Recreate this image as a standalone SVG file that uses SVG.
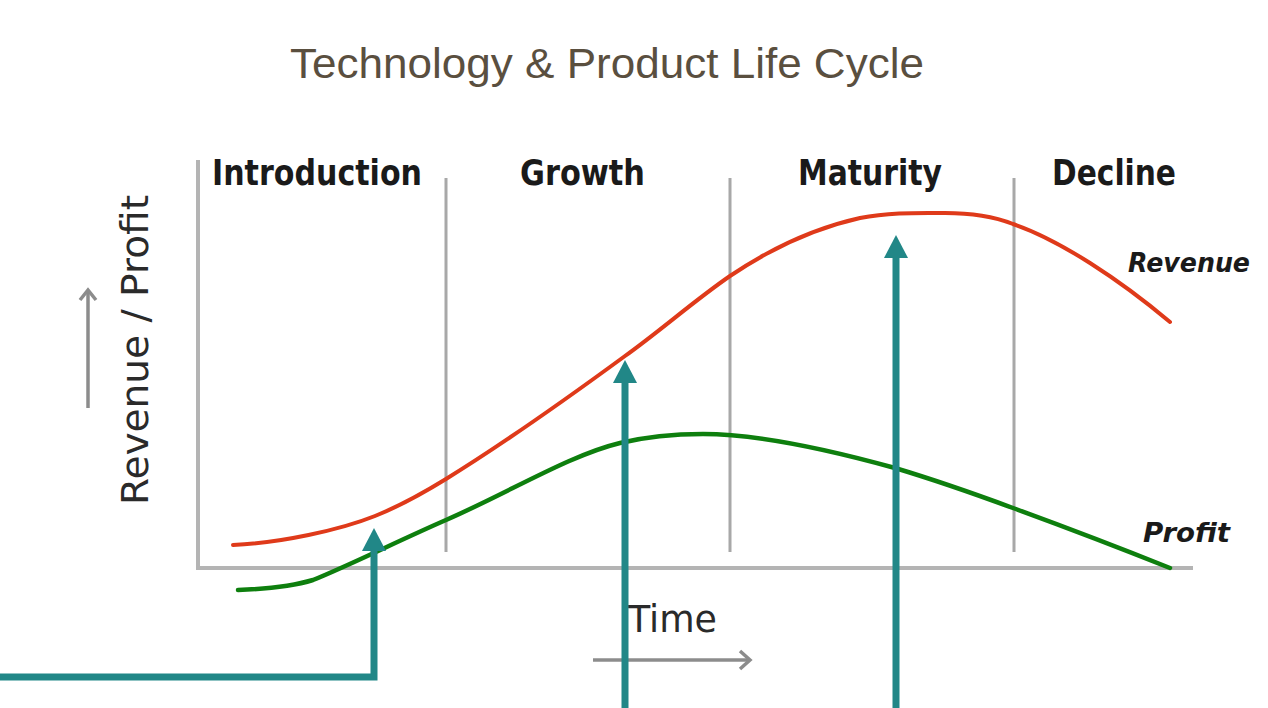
<svg xmlns="http://www.w3.org/2000/svg" width="1268" height="708" viewBox="0 0 1268 708">
  <style>
    .title { font-family: "Liberation Sans", Arial, sans-serif; font-size: 43px; fill: #5a4f3f; }
    .phase { font-family: "DejaVu Sans", Verdana, sans-serif; font-weight: bold; font-size: 35px; fill: #1a1a1a; }
    .axislbl { font-family: "DejaVu Sans", Verdana, sans-serif; font-size: 37px; fill: #2a2a2a; }
    .curvelbl { font-family: "DejaVu Sans", Verdana, sans-serif; font-weight: bold; font-style: italic; font-size: 26px; fill: #1a1a1a; }
    .axis { stroke: #b4b4b4; stroke-width: 4; fill: none; }
    .divider { stroke: #a8a8a8; stroke-width: 3; fill: none; }
    .garrow { stroke: #8c8c8c; stroke-width: 3.5; fill: none; }
    .rev { stroke: #df3a1a; stroke-width: 4; fill: none; stroke-linecap: round; }
    .prof { stroke: #0e7f0e; stroke-width: 4.5; fill: none; stroke-linecap: round; }
    .conn { stroke: #218787; stroke-width: 7; fill: none; }
    .head { fill: #218787; }
  </style>
  <defs>
    <path id="tealHead" class="head" d="M-12,0 L0,-23 L12,0 Z"/>
  </defs>
  <rect width="1268" height="708" fill="#ffffff"/>

  <g id="title">
    <text class="title" x="290" y="78" textLength="634" lengthAdjust="spacingAndGlyphs">Technology &amp; Product Life Cycle</text>
  </g>

  <g id="axes">
    <path class="axis" d="M198,160 L198,568 L1193,568"/>
    <line class="divider" x1="446" y1="178" x2="446" y2="552"/>
    <line class="divider" x1="730" y1="178" x2="730" y2="552"/>
    <line class="divider" x1="1014" y1="178" x2="1014" y2="552"/>
  </g>

  <g id="phase-introduction"><text class="phase" x="212" y="185" textLength="210" lengthAdjust="spacingAndGlyphs">Introduction</text></g>
  <g id="phase-growth"><text class="phase" x="520" y="185" textLength="125" lengthAdjust="spacingAndGlyphs">Growth</text></g>
  <g id="phase-maturity"><text class="phase" x="798" y="185" textLength="144" lengthAdjust="spacingAndGlyphs">Maturity</text></g>
  <g id="phase-decline"><text class="phase" x="1052" y="185" textLength="124" lengthAdjust="spacingAndGlyphs">Decline</text></g>

  <g id="y-axis-label">
    <text class="axislbl" transform="translate(148,505) rotate(-90)" x="0" y="0" textLength="310" lengthAdjust="spacingAndGlyphs">Revenue / Profit</text>
    <line class="garrow" x1="88" y1="408" x2="88" y2="291"/>
    <polyline class="garrow" points="80,300 88,290 96,300"/>
  </g>

  <g id="x-axis-label">
    <text class="axislbl" x="628" y="632" textLength="89" lengthAdjust="spacingAndGlyphs">Time</text>
    <line class="garrow" x1="593" y1="660" x2="749" y2="660"/>
    <polyline class="garrow" points="740,651 750,660 740,669"/>
  </g>

  <g id="revenue-curve">
    <path class="rev" d="M233,545 C280,543 340,530 375,516 C400,506 420,495 446,479 C506,442 565,400 625,356 C660,331 695,300 730,276 C770,249 815,228 860,218 C890,212 920,213 945,213 C975,213 995,217 1013,224 C1060,240 1120,280 1170,322"/>
    <text class="curvelbl" x="1128" y="272" textLength="122" lengthAdjust="spacingAndGlyphs">Revenue</text>
  </g>

  <g id="profit-curve">
    <path class="prof" d="M238,590 C265,589 290,587 313,580 C350,565 400,540 446,520 C510,492 570,455 620,443 C645,437 675,434 703,434 C760,434 830,450 895,468 C935,480 975,494 1013,508 C1065,527 1120,548 1170,568"/>
    <text class="curvelbl" x="1143" y="542" textLength="87" lengthAdjust="spacingAndGlyphs">Profit</text>
  </g>

  <g id="connectors">
    <path class="conn" d="M0,677 L374,677 L374,549"/>
    <use href="#tealHead" x="374" y="551"/>
    <path class="conn" d="M625,708 L625,381"/>
    <use href="#tealHead" x="625" y="383"/>
    <path class="conn" d="M896,708 L896,256"/>
    <use href="#tealHead" x="896" y="258"/>
  </g>
</svg>
